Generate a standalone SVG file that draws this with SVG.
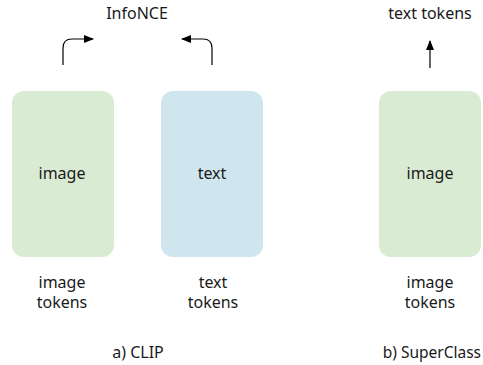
<svg xmlns="http://www.w3.org/2000/svg" width="483" height="365" viewBox="0 0 483 365">
<defs>
<marker id="ah" markerWidth="10" markerHeight="8" refX="9" refY="4" orient="auto" markerUnits="userSpaceOnUse">
<path d="M0,0 L10,4 L0,8 Z" fill="#000"/>
</marker>
<style>
text{font-family:"Noto Sans",sans-serif;font-size:16px;fill:#1a1a1a;text-anchor:middle}
.conn{fill:none;stroke:#000;stroke-width:1.2;marker-end:url(#ah)}
</style>
</defs>
<rect width="483" height="365" fill="#fff"/>
<g id="infonce"><text x="137" y="19">InfoNCE</text></g>
<g id="texttokens-top"><text x="430" y="19">text tokens</text></g>
<g id="clip-image"><rect x="12" y="91" width="102" height="166" rx="12" fill="#d9ebd3"/><text x="62" y="179">image</text></g>
<g id="clip-text"><rect x="161" y="91" width="102" height="166" rx="12" fill="#cfe6ef"/><text x="212" y="179">text</text></g>
<g id="sc-image"><rect x="379" y="91" width="102" height="166" rx="12" fill="#d9ebd3"/><text x="430" y="179">image</text></g>
<g id="labels">
<text x="62" y="288">image</text><text x="62" y="308">tokens</text>
<text x="213" y="288">text</text><text x="213" y="308">tokens</text>
<text x="430" y="288">image</text><text x="430" y="308">tokens</text>
<text x="138" y="358">a) CLIP</text>
<text x="481" y="358" style="text-anchor:end;font-size:15.5px">b) SuperClass</text>
</g>
<g id="connectors">
<path class="conn" d="M63,65 L63,48 Q63,39 72,39 L93,39"/>
<path class="conn" d="M212,65 L212,48 Q212,39 203,39 L182,39"/>
<path class="conn" d="M430,68 L430,41"/>
</g>
</svg>
